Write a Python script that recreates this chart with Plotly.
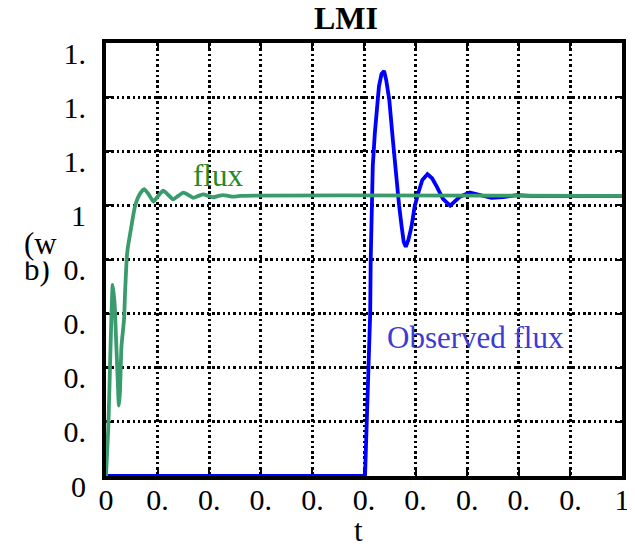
import plotly.graph_objects as go

# ---- data ----
flux_t = [0, 0.0045, 0.009, 0.013, 0.017, 0.019, 0.022, 0.025, 0.027, 0.030, 0.035, 0.037,
          0.040, 0.042, 0.049, 0.056, 0.065, 0.074, 0.083, 0.092, 0.101, 0.111, 0.120, 0.130,
          0.140, 0.150, 0.160, 0.169, 0.179, 0.189, 0.198, 0.208, 0.218, 0.227, 0.237, 0.247,
          0.26, 1.0]
flux_v = [0, 0.18, 0.49, 0.706, 0.626, 0.53, 0.39, 0.26, 0.31, 0.48, 0.58, 0.68,
          0.80, 0.84, 0.92, 0.995, 1.04, 1.06, 1.04, 1.014, 1.035, 1.054, 1.04, 1.022,
          1.035, 1.047, 1.038, 1.028, 1.035, 1.041, 1.035, 1.03, 1.035, 1.038, 1.035, 1.032,
          1.035, 1.035]

obs_t = [0, 0.502, 0.505, 0.508, 0.511, 0.512, 0.513, 0.515, 0.517, 0.521, 0.525, 0.529,
         0.534, 0.539, 0.543, 0.549, 0.556, 0.563, 0.568, 0.573, 0.577, 0.581, 0.586, 0.592,
         0.598, 0.605, 0.613, 0.623, 0.632, 0.641, 0.653, 0.667, 0.676, 0.686, 0.705, 0.725,
         0.747, 0.770, 0.796, 0.822, 1.0]
obs_v = [0, 0, 0.18, 0.33, 0.48, 0.60, 0.80, 1.02, 1.145, 1.267, 1.37, 1.44,
         1.486, 1.497, 1.463, 1.39, 1.24, 1.083, 1.00, 0.921, 0.865, 0.847, 0.872, 0.921,
         0.994, 1.045, 1.094, 1.115, 1.10, 1.069, 1.024, 0.999, 1.013, 1.032, 1.048, 1.038,
         1.028, 1.031, 1.038, 1.035, 1.035]

x_tick_vals = [0, 0.1, 0.2, 0.3, 0.4, 0.5, 0.6, 0.7, 0.8, 0.9, 1.0]
x_tick_text = ["0", "0.", "0.", "0.", "0.", "0.", "0.", "0.", "0.", "0.", "1"]
y_tick_vals = [0, 0.2, 0.4, 0.6, 0.8, 1.0, 1.2, 1.4, 1.6]
y_tick_text = ["0", "0.", "0.", "0.", "0.", "1", "1.", "1.", "1."]

FONT = "Liberation Serif"
GREEN = "#3a9c6c"
BLUE = "#0000ff"

fig = go.Figure()
fig.add_trace(go.Scatter(x=obs_t, y=obs_v, mode="lines",
                         line=dict(color=BLUE, width=3.8),
                         cliponaxis=False, showlegend=False))
fig.add_trace(go.Scatter(x=flux_t, y=flux_v, mode="lines",
                         line=dict(color=GREEN, width=3.8, shape="spline", smoothing=0.5),
                         cliponaxis=False, showlegend=False))

axis_common = dict(
    showline=True, linecolor="black", linewidth=4, mirror="ticks",
    ticks="inside", ticklen=6, tickwidth=2, tickcolor="black",
    showgrid=True, gridcolor="black", gridwidth=2.5, griddash="2.5px,2.8px",
    zeroline=False, layer="below traces", automargin=False,
    tickfont=dict(family=FONT, size=30, color="black"),
)
fig.update_xaxes(range=[0, 1], tickmode="array", tickvals=x_tick_vals, ticktext=x_tick_text,
                 ticklabelstandoff=-6, **axis_common)
fig.update_yaxes(range=[0, 1.6], tickmode="array", tickvals=y_tick_vals, ticktext=y_tick_text,
                 ticklabelstandoff=10, ticklabelshift=10, **axis_common)

ann_font = dict(family=FONT, size=31, color="black")
fig.add_annotation(text="<b>LMI</b>", xref="paper", yref="paper", x=0.465, y=1.058,
                   xanchor="center", yanchor="middle",
                   showarrow=False, font=dict(family=FONT, size=32, color="black"))
fig.add_annotation(text="t", xref="paper", yref="paper", x=0.49, y=-0.127,
                   xanchor="center", yanchor="middle", showarrow=False, font=ann_font)
fig.add_annotation(text="b)", xref="paper", yref="paper", x=-0.133, y=0.477,
                   xanchor="center", yanchor="middle", showarrow=False, font=ann_font)
fig.add_annotation(text="(w", xref="paper", yref="paper", x=-0.126, y=0.538,
                   xanchor="center", yanchor="middle", height=36, borderpad=0,
                   showarrow=False, font=ann_font, bgcolor="white")
fig.add_annotation(text="flux", x=0.217, y=1.112, showarrow=False,
                   xanchor="center", yanchor="middle",
                   font=dict(family=FONT, size=31, color="#228b22"))
fig.add_annotation(text="Observed flux", x=0.717, y=0.51, showarrow=False,
                   xanchor="center", yanchor="middle",
                   font=dict(family=FONT, size=31, color="#3c3cd2"))

# the page body has an 8px margin; compensate so the plot area sits at (106..622, 43..476)
fig.update_layout(width=627, height=536, margin=dict(l=98, r=13, t=35, b=68),
                  plot_bgcolor="white", paper_bgcolor="white", showlegend=False)

fig.write_html("out.html")
